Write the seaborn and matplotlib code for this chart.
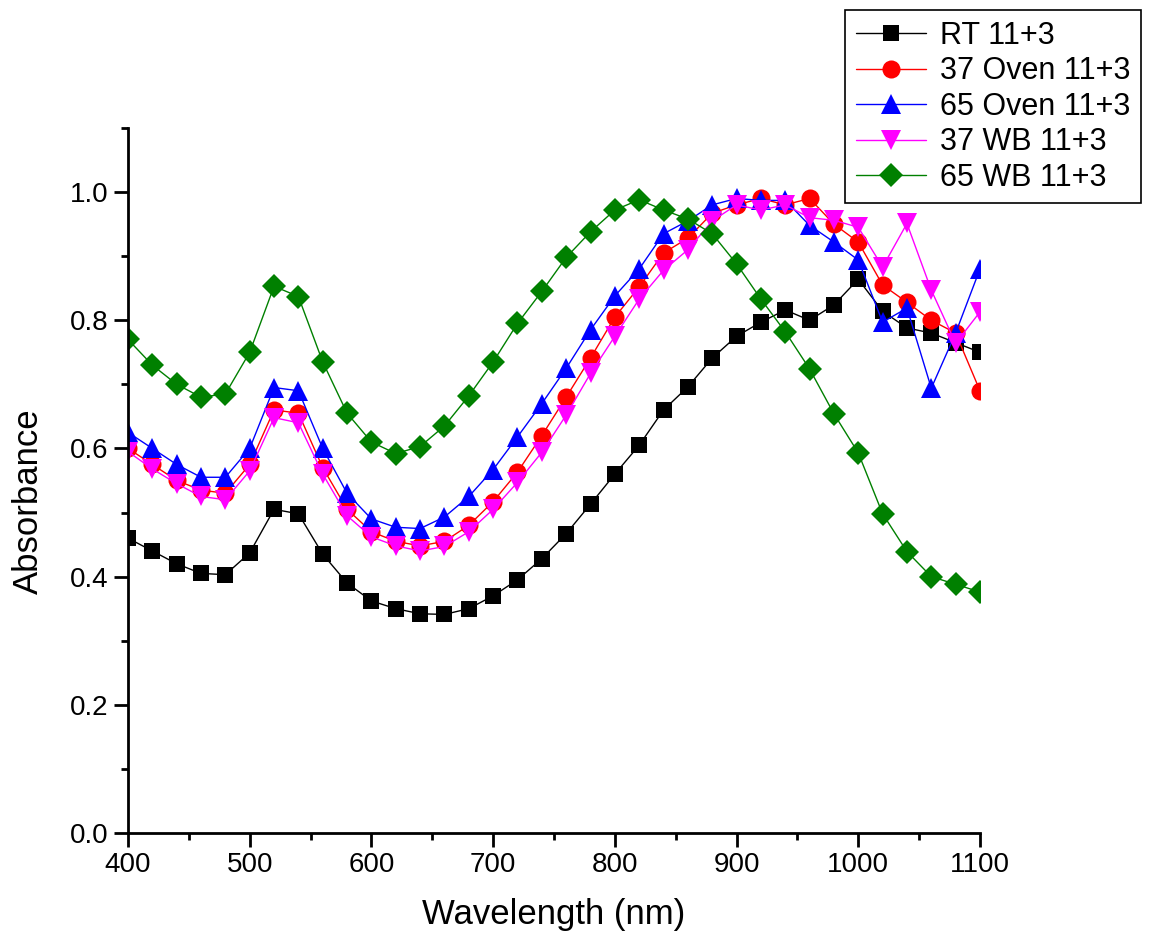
import numpy as np
import pandas as pd
import seaborn as sns
import matplotlib
matplotlib.use("Agg")
import matplotlib.pyplot as plt
from matplotlib.ticker import MultipleLocator

# Dados (marcadores a cada 20 nm)
wavelength = list(range(400, 1101, 20))

rt_11_3 = [0.460, 0.440, 0.420, 0.405, 0.403, 0.437, 0.505, 0.498, 0.435, 0.390,
           0.362, 0.350, 0.342, 0.341, 0.350, 0.370, 0.395, 0.428, 0.467, 0.513,
           0.560, 0.605, 0.660, 0.696, 0.741, 0.775, 0.797, 0.816, 0.800, 0.824,
           0.864, 0.814, 0.788, 0.780, 0.765, 0.750]

oven37_11_3 = [0.600, 0.575, 0.550, 0.535, 0.530, 0.575, 0.660, 0.655, 0.570, 0.505,
               0.470, 0.455, 0.448, 0.455, 0.480, 0.517, 0.563, 0.620, 0.680, 0.741,
               0.805, 0.852, 0.905, 0.928, 0.967, 0.980, 0.990, 0.980, 0.990, 0.950,
               0.922, 0.855, 0.828, 0.800, 0.780, 0.690]

oven65_11_3 = [0.625, 0.600, 0.575, 0.555, 0.555, 0.600, 0.695, 0.690, 0.600, 0.530,
               0.490, 0.477, 0.475, 0.493, 0.525, 0.567, 0.618, 0.670, 0.725, 0.785,
               0.838, 0.880, 0.935, 0.955, 0.980, 0.990, 0.987, 0.987, 0.948, 0.922,
               0.894, 0.797, 0.819, 0.694, 0.780, 0.880]

wb37_11_3 = [0.595, 0.568, 0.545, 0.525, 0.520, 0.565, 0.648, 0.640, 0.560, 0.495,
             0.462, 0.448, 0.440, 0.447, 0.470, 0.505, 0.547, 0.594, 0.652, 0.717,
             0.775, 0.833, 0.878, 0.910, 0.955, 0.980, 0.972, 0.980, 0.960, 0.956,
             0.945, 0.883, 0.951, 0.847, 0.764, 0.813]

wb65_11_3 = [0.770, 0.730, 0.700, 0.680, 0.685, 0.750, 0.853, 0.837, 0.735, 0.655,
             0.610, 0.592, 0.603, 0.635, 0.682, 0.735, 0.795, 0.845, 0.898, 0.938,
             0.972, 0.988, 0.972, 0.958, 0.935, 0.888, 0.833, 0.782, 0.724, 0.654,
             0.593, 0.498, 0.439, 0.400, 0.388, 0.376]

labels = ["RT 11+3", "37 Oven 11+3", "65 Oven 11+3", "37 WB 11+3", "65 WB 11+3"]
series = [rt_11_3, oven37_11_3, oven65_11_3, wb37_11_3, wb65_11_3]
colors = ["black", "#FF0000", "#0000FF", "#FF00FF", "#008000"]
markers = ["s", "o", "^", "v", "D"]
msizes = [12, 13, 14, 14, 12]

sns.set_style("ticks")
plt.rcParams['font.family'] = ['Liberation Sans', 'DejaVu Sans']
plt.rcParams['text.color'] = 'black'
plt.rcParams['axes.labelcolor'] = 'black'


def main():
    fig = plt.figure(figsize=(11.49, 9.41), dpi=100)
    ax = fig.add_axes([0.1114, 0.1148, 0.7415, 0.7492])

    for lab, vals, cor, mk, ms in zip(labels, series, colors, markers, msizes):
        df = pd.DataFrame({"Wavelength": wavelength, "Absorbance": vals})
        sns.lineplot(data=df, x="Wavelength", y="Absorbance", ax=ax, color=cor,
                     marker=mk, markersize=ms, markeredgewidth=0, linewidth=1.0,
                     label=lab)

    ax.set_xlim(400, 1100)
    ax.set_ylim(0, 1.1)
    ax.xaxis.set_major_locator(MultipleLocator(100))
    ax.xaxis.set_minor_locator(MultipleLocator(50))
    ax.yaxis.set_major_locator(MultipleLocator(0.2))
    ax.yaxis.set_minor_locator(MultipleLocator(0.1))
    ax.yaxis.set_major_formatter(matplotlib.ticker.FormatStrFormatter("%.1f"))

    for s in ["top", "right"]:
        ax.spines[s].set_visible(False)
    for s in ["left", "bottom"]:
        ax.spines[s].set_linewidth(2)
        ax.spines[s].set_color("black")

    ax.tick_params(which="major", direction="out", length=10, width=2,
                   labelsize=20, colors="black", pad=4)
    ax.tick_params(which="minor", direction="out", length=5, width=2,
                   colors="black")

    ax.set_xlabel("Wavelength (nm)", fontsize=25, labelpad=14, color="black")
    ax.set_ylabel("Absorbance", fontsize=25, color="black")
    ax.yaxis.set_label_coords(-0.097, 0.47)

    leg = ax.legend(loc="upper left", bbox_to_anchor=(845 / 1149, 1 - 10 / 941),
                    bbox_transform=fig.transFigure, fontsize=22, frameon=True,
                    fancybox=False, edgecolor="black", framealpha=1,
                    handlelength=2.3, handletextpad=0.45, labelspacing=0.18,
                    borderpad=0.35, borderaxespad=0, labelcolor="black")
    leg.get_frame().set_linewidth(1.2)

    fig.savefig("out.png", dpi=100)


if __name__ == "__main__":
    main()
